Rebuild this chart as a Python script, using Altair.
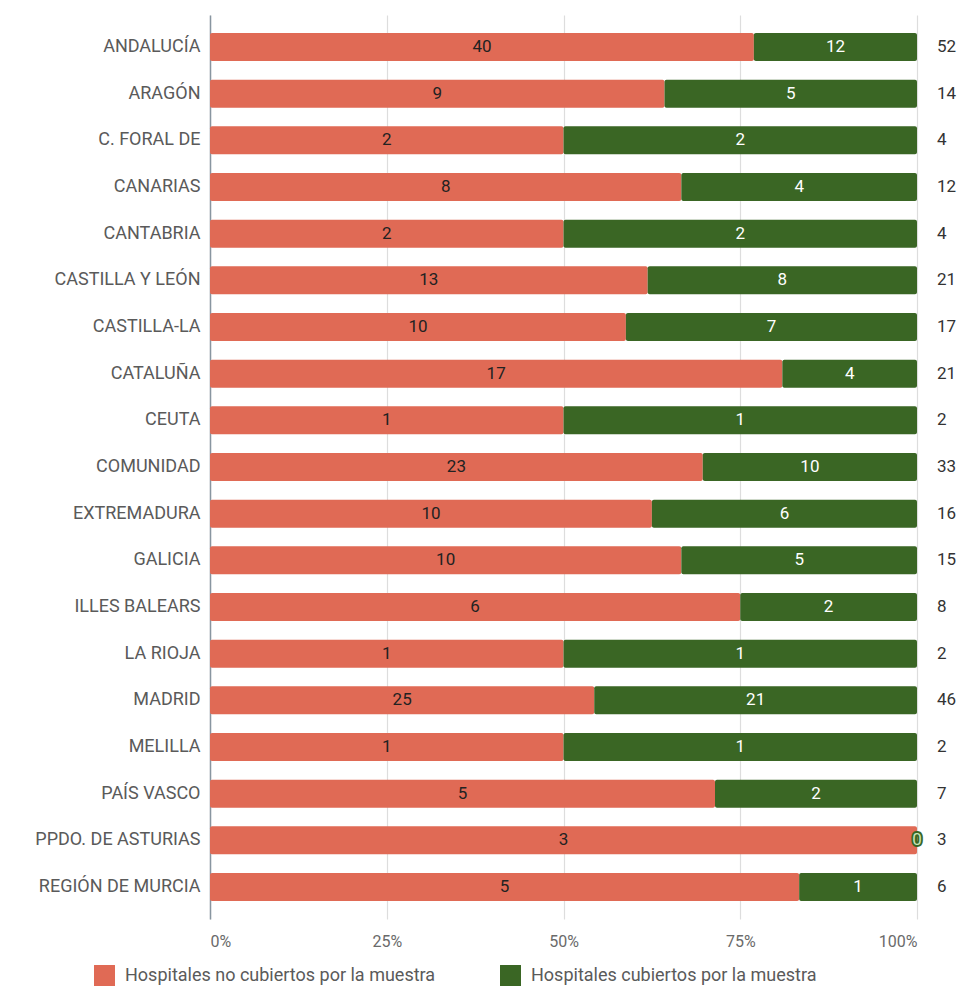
import altair as alt
import pandas as pd

regiones = ["ANDALUCÍA", "ARAGÓN", "C. FORAL DE", "CANARIAS", "CANTABRIA",
            "CASTILLA Y LEÓN", "CASTILLA-LA", "CATALUÑA", "CEUTA", "COMUNIDAD",
            "EXTREMADURA", "GALICIA", "ILLES BALEARS", "LA RIOJA", "MADRID",
            "MELILLA", "PAÍS VASCO", "PPDO. DE ASTURIAS", "REGIÓN DE MURCIA"]
no_cubiertos = [40, 9, 2, 8, 2, 13, 10, 17, 1, 23, 10, 10, 6, 1, 25, 1, 5, 3, 5]
cubiertos = [12, 5, 2, 4, 2, 8, 7, 4, 1, 10, 6, 5, 2, 1, 21, 1, 2, 0, 1]

serie_no = "Hospitales no cubiertos por la muestra"
serie_si = "Hospitales cubiertos por la muestra"
ROJO = "#E06A55"
VERDE = "#3A6624"
FONT = "Roboto"

rows = []
for r, a, b in zip(regiones, no_cubiertos, cubiertos):
    rows.append({"region": r, "serie": serie_no, "valor": a, "orden": 0})
    rows.append({"region": r, "serie": serie_si, "valor": b, "orden": 1})
df = pd.DataFrame(rows)

base = alt.Chart(df).transform_joinaggregate(
    total="sum(valor)", groupby=["region"]
).transform_window(
    cum="sum(valor)", groupby=["region"], sort=[{"field": "orden"}], frame=[None, 0]
).transform_calculate(
    x0="(datum.cum - datum.valor) / datum.total",
    x1="datum.cum / datum.total",
    mid="(datum.cum - datum.valor / 2) / datum.total",
)

yenc = alt.Y("region:N", sort=regiones,
             scale=alt.Scale(paddingInner=0.4, paddingOuter=0.386),
             axis=alt.Axis(title=None, labelFont=FONT, labelFontSize=18,
                           labelColor="#5a5a5a", labelPadding=10, ticks=False,
                           domain=True, domainColor="#8895a0", domainWidth=1.5))

xscale = alt.Scale(domain=[0, 1], nice=False, zero=True)

bars = base.mark_bar(cornerRadius=2).encode(
    y=yenc,
    x=alt.X("x0:Q", scale=xscale,
            axis=alt.Axis(title=None, format="%", values=[0, 0.25, 0.5, 0.75, 1],
                          labelFont=FONT, labelFontSize=16, labelColor="#6a6a6a",
                          labelPadding=14, ticks=False, domain=False,
                          grid=True, gridColor="#dddddd", gridWidth=1.2)),
    x2="x1:Q",
    color=alt.Color("serie:N", scale=alt.Scale(domain=[serie_no, serie_si], range=[ROJO, VERDE]),
                    legend=alt.Legend(title=None, orient="none", direction="horizontal",
                                      legendX=-116, legendY=950, symbolType="square",
                                      symbolSize=440, symbolStrokeWidth=0,
                                      labelFont=FONT, labelFontSize=18, labelColor="#5a5a5a",
                                      labelLimit=0, columnPadding=64, labelOffset=10)),
)

txt_no = base.transform_filter("datum.orden == 0").mark_text(
    font=FONT, fontSize=17, color="#222222"
).encode(y=alt.Y("region:N", sort=regiones), x="mid:Q", text="valor:Q")

cero_halo = base.transform_filter("datum.orden == 1 && datum.valor == 0").mark_text(
    font=FONT, fontSize=17, color=VERDE, stroke=VERDE, strokeWidth=4
).encode(y=alt.Y("region:N", sort=regiones), x="mid:Q", text="valor:Q")

txt_si = base.transform_filter("datum.orden == 1").mark_text(
    font=FONT, fontSize=17
).encode(
    y=alt.Y("region:N", sort=regiones), x="mid:Q", text="valor:Q",
    color=alt.condition("datum.valor == 0", alt.value("#c9e4b8"), alt.value("white")),
)

txt_tot = base.transform_filter("datum.orden == 1").mark_text(
    font=FONT, fontSize=17, color="#333333", align="left", dx=20
).encode(y=alt.Y("region:N", sort=regiones), x=alt.value(707), text="total:Q")

chart = alt.layer(bars, txt_no, cero_halo, txt_si, txt_tot).properties(
    width=707, height=904,
    autosize=alt.AutoSizeParams(type="none"),
    padding={"left": 210, "top": 15, "right": 47, "bottom": 74},
).configure_view(stroke=None)

chart.save("out.html", embed_options={"renderer": "svg", "actions": False})
